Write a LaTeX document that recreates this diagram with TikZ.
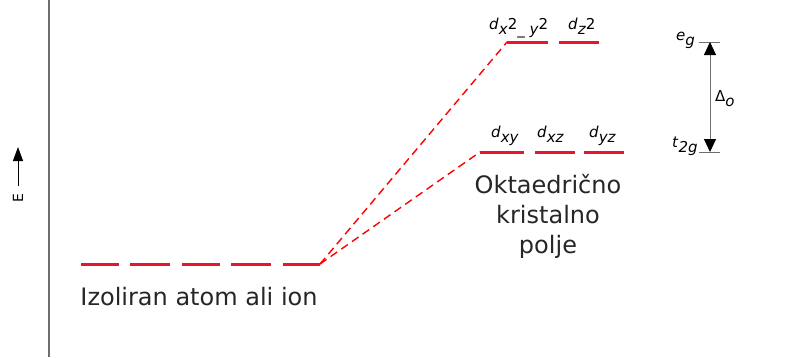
\documentclass[tikz,border=0pt]{standalone}
\usepackage{fontspec}
\setmainfont{DejaVu Sans}
\usetikzlibrary{arrows.meta}
\definecolor{lvl}{RGB}{235,20,45}
\definecolor{axisgray}{RGB}{110,110,110}
\tikzset{
  level/.style={draw=lvl, line width=3pt},
  link/.style={draw=red, line width=1.4pt, dash pattern=on 8pt off 5pt},
  lbl/.style={inner sep=0pt, font=\fontsize{24}{30}\selectfont, text=black!85, align=center},
  orb/.style={inner sep=0pt, anchor=base west, font=\fontsize{15}{17}\selectfont},
  tick/.style={draw=axisgray, line width=1pt},
  gap/.style={draw=axisgray, line width=1pt, {Triangle[width=12pt,length=13pt,fill=black,color=black]}-{Triangle[width=12pt,length=13pt,fill=black,color=black]}}
}
\newcommand\sbx[1]{\raisebox{-5pt}{\textit{#1}}}
\begin{document}
\begin{tikzpicture}[x=1pt,y=-1pt]
\useasboundingbox (0,0) rectangle (807,357);
% energy axis
\coordinate (axT) at (49,0);
\coordinate (axB) at (49,357);
\draw[axisgray, line width=1.8pt] (axT) -- (axB);
\coordinate (eB) at (18,186);
\coordinate (eT) at (18,147);
\draw[black, line width=1pt, -{Triangle[width=10pt,length=14pt]}] (eB) -- (eT);
\node[inner sep=0pt, rotate=90, font=\fontsize{14}{14}\selectfont] (E) at (18,198) {E};
% isolated atom levels
\foreach \a/\b [count=\i] in {81/119, 130/170, 182/220, 231/271, 283/320}{
  \draw[level] (\a,264) -- (\b,264);
}
\coordinate (atom) at (320,264);
\node[lbl] (atomlbl) at (199,297) {Izoliran atom ali ion};
% eg levels
\coordinate (egL) at (507,42);
\draw[level] (egL) -- (548,42);
\draw[level] (559,42) -- (599,42);
% t2g levels
\coordinate (tL) at (480,152);
\draw[level] (tL) -- (524,152);
\draw[level] (535,152) -- (575,152);
\draw[level] (584,152) -- (624,152);
% connectors
\draw[link] (atom) -- (egL);
\draw[link] (atom) -- (tL);
% orbital labels
\node[orb] (dx2y2) at (489,29) {\textit{d}\sbx{x}2\sbx{\_ y}2};
\node[orb] (dz2) at (568,29) {\textit{d}\sbx{z}2};
\node[orb] (dxy) at (491,137) {\textit{d}\sbx{xy}};
\node[orb] (dxz) at (537,137) {\textit{d}\sbx{xz}};
\node[orb] (dyz) at (589,137) {\textit{d}\sbx{yz}};
\node[lbl] (okt) at (548,216) {Oktaedrično\\kristalno\\polje};
% splitting
\coordinate (tkT1) at (699,42); \coordinate (tkT2) at (720,42);
\coordinate (tkB1) at (699,152); \coordinate (tkB2) at (720,152);
\draw[tick] (tkT1) -- (tkT2);
\draw[tick] (tkB1) -- (tkB2);
\coordinate (gT) at (710,42);
\coordinate (gB) at (710,152);
\draw[gap] (gB) -- (gT);
\node[orb] (eg) at (676,40) {\textit{e}\sbx{g}};
\node[orb] (t2g) at (672,147) {\textit{t}\sbx{2g}};
\node[orb] (delta) at (715,101) {Δ\sbx{o}};
\end{tikzpicture}
\end{document}
